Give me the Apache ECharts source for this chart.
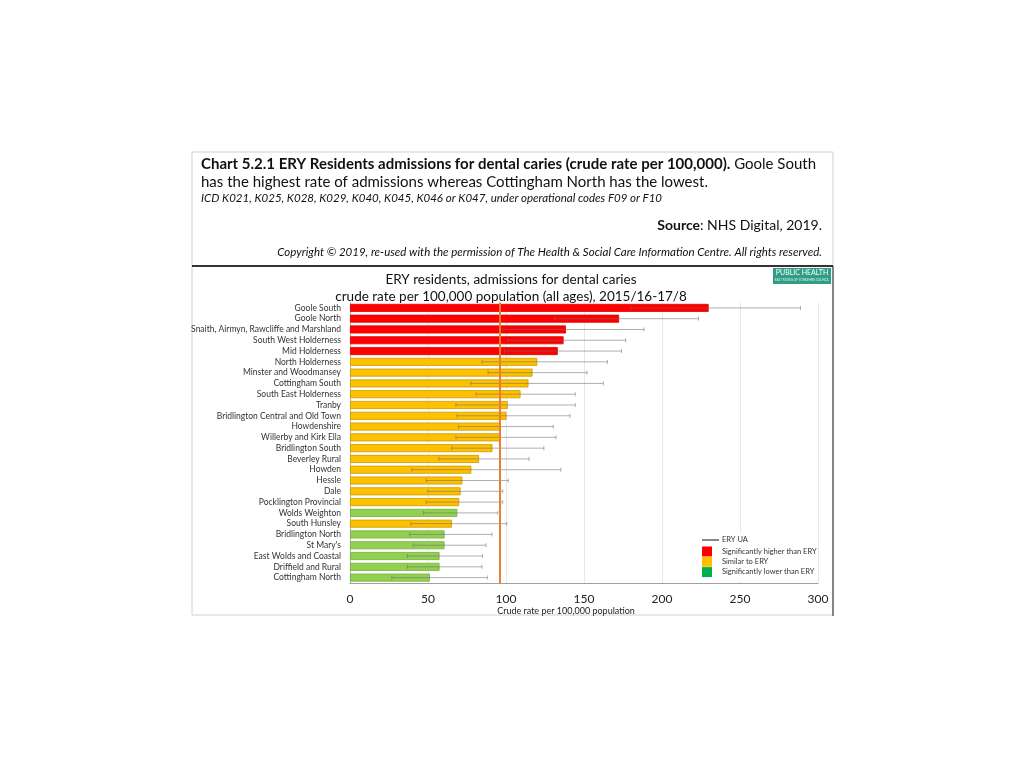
<!DOCTYPE html>
<html>
<head>
<meta charset="utf-8">
<script src="https://cdn.jsdelivr.net/npm/echarts@6/dist/echarts.min.js"></script>
<style>
html,body{margin:0;padding:0;background:#fff;}
#chart{width:1024px;height:768px;}
</style>
</head>
<body>
<div id="chart"></div>
<script>
// ---- data ----
const categories = [
  "Goole South","Goole North","Snaith, Airmyn, Rawcliffe and Marshland","South West Holderness",
  "Mid Holderness","North Holderness","Minster and Woodmansey","Cottingham South",
  "South East Holderness","Tranby","Bridlington Central and Old Town","Howdenshire",
  "Willerby and Kirk Ella","Bridlington South","Beverley Rural","Howden","Hessle","Dale",
  "Pocklington Provincial","Wolds Weighton","South Hunsley","Bridlington North","St Mary's",
  "East Wolds and Coastal","Driffield and Rural","Cottingham North"
];
const rates = [229.9,172.5,138.4,136.9,133.2,120.0,117.0,114.4,109.3,101.1,100.3,96.4,96.0,91.3,82.7,77.8,72.0,70.9,70.0,68.8,65.3,60.6,60.6,57.4,57.4,51.2];
const lowerCI = [180,131,97.5,101,99,84.6,88.5,77.5,80.8,67.9,68.6,69.6,67.9,65.1,57.0,39.6,48.8,49.9,48.8,47.1,39.0,38.3,40.5,36.8,36.8,26.8];
const upperCI = [288.8,223.4,188.5,176.7,174.0,165.0,151.9,162.4,144.4,144.4,141.0,130.3,132.0,124.3,114.8,135.2,101.5,97.9,97.9,94.7,100.5,91.0,87.2,85.0,84.6,88.0];
const significance = ["H","H","H","H","H","S","S","S","S","S","S","S","S","S","S","S","S","S","S","L","S","L","L","L","L","L"];
const eryUA = 95.7;
const xTicks = [0,50,100,150,200,250,300];

const barColors = {H:"#ff0000", S:"#ffc000", L:"#92d050"};
const barBorders = {H:"#e00000", S:"#c99a00", L:"#74b03a"};
const legendColors = ["#ff0000","#ffc000","#00b050"];
const legendLabels = ["Significantly higher than ERY","Similar to ERY","Significantly lower than ERY"];

const FONT = "Lato";
const chart = echarts.init(document.getElementById("chart"), null, {renderer:"canvas"});

const barData = rates.map((v,i)=>({value:v,itemStyle:{color:barColors[significance[i]],borderColor:barBorders[significance[i]],borderWidth:0.8}}));
const errData = rates.map((v,i)=>[i,lowerCI[i],upperCI[i]]);

const graphics = [
  // outer frame
  {type:"rect",shape:{x:192,y:152,width:641,height:463},style:{fill:"none",stroke:"#d0d0d0",lineWidth:1},z:0},
  {type:"line",shape:{x1:833,y1:266,x2:833,y2:616},style:{stroke:"#222",lineWidth:1}},
  {type:"line",shape:{x1:192,y1:266,x2:833,y2:266},style:{stroke:"#333",lineWidth:2}},
  // header text
  {type:"text",left:201,top:157,style:{rich:{b:{fontFamily:FONT,fontWeight:"bold",fontSize:15,fill:"#111"},r:{fontFamily:FONT,fontSize:15,fill:"#111"}},
    text:"{b|Chart 5.2.1 ERY Residents admissions for dental caries (crude rate per 100,000).}{r| Goole South}"}},
  {type:"text",left:201,top:175,style:{text:"has the highest rate of admissions whereas Cottingham North has the lowest.",fontFamily:FONT,fontSize:15,fill:"#111"}},
  {type:"text",left:201,top:192,style:{text:"ICD K021, K025, K028, K029, K040, K045, K046 or K047, under operational codes F09 or F10",fontFamily:FONT,fontStyle:"italic",fontSize:11.5,fill:"#111"}},
  {type:"text",right:1024-822,top:218,style:{rich:{b:{fontFamily:FONT,fontWeight:"bold",fontSize:14,fill:"#111"},r:{fontFamily:FONT,fontSize:14,fill:"#111"}},
    text:"{b|Source}{r|: NHS Digital, 2019.}"}},
  {type:"text",right:1024-822,top:246,style:{text:"Copyright \u00a9 2019, re-used with the permission of The Health & Social Care Information Centre. All rights reserved.",fontFamily:FONT,fontStyle:"italic",fontSize:11.5,fill:"#111"}},
  // public health logo
  {type:"rect",shape:{x:773,y:268,width:58,height:16},style:{fill:"#2f9e86"}},
  {type:"text",x:802,y:273,style:{text:"PUBLIC HEALTH",fontFamily:FONT,fontSize:7,fill:"#fff",textAlign:"center",textVerticalAlign:"middle"}},
  {type:"text",x:802,y:280,style:{text:"EAST RIDING OF YORKSHIRE COUNCIL",fontFamily:FONT,fontSize:3,fill:"#d8f0ea",textAlign:"center",textVerticalAlign:"middle"}},
  // x axis name
  {type:"text",x:566,y:611,style:{text:"Crude rate per 100,000 population",fontFamily:FONT,fontSize:9,fill:"#222",textAlign:"center",textVerticalAlign:"middle"}},
  // legend background + entries
  {type:"rect",z:50,shape:{x:698,y:533,width:118,height:48},style:{fill:"#fff"}},
  {type:"line",z:51,shape:{x1:702,y1:540,x2:719,y2:540},style:{stroke:"#111",lineWidth:1}},
  {type:"text",z:51,x:722,y:540,style:{text:"ERY UA",fontFamily:FONT,fontSize:7.5,fill:"#333",textVerticalAlign:"middle"}}
];
legendLabels.forEach((t,k)=>{
  graphics.push({type:"rect",z:51,shape:{x:702,y:546.5+k*10.3,width:10,height:10},style:{fill:legendColors[k]}});
  graphics.push({type:"text",z:51,x:722,y:551.5+k*10.1,style:{text:t,fontFamily:FONT,fontSize:7.5,fill:"#333",textVerticalAlign:"middle"}});
});

const option = {
  backgroundColor:"#fff",
  animation:false,
  title:{
    text:"ERY residents, admissions for dental caries\ncrude rate per 100,000 population (all ages), 2015/16-17/8",
    left:511, textAlign:"center", top:271, padding:0,
    textStyle:{fontFamily:FONT,fontSize:13.5,fontWeight:"normal",color:"#111",lineHeight:17}
  },
  grid:{left:350,right:206,top:302.5,bottom:185,containLabel:false},
  xAxis:{
    type:"value",min:0,max:300,interval:50,
    axisLine:{show:true,lineStyle:{color:"#a0a0a0"}},
    axisTick:{show:false},
    splitLine:{show:true,lineStyle:{color:"#e8e8e8"}},
    axisLabel:{fontFamily:FONT,fontSize:12,color:"#222",margin:10,
      formatter:(v)=>xTicks.indexOf(v)>=0?String(v):""}
  },
  yAxis:{
    type:"category",data:categories,inverse:true,
    axisLine:{show:true,lineStyle:{color:"#b0b0b0"}},
    axisTick:{show:false},
    axisLabel:{fontFamily:FONT,fontSize:8.5,color:"#333",margin:9,interval:0}
  },
  series:[
    {
      type:"bar",data:barData,barWidth:8,z:2,
      markLine:{
        symbol:"none",silent:true,label:{show:false},
        lineStyle:{color:"#ed7d31",width:2,type:"solid"},
        data:[{xAxis:eryUA}]
      }
    },
    {
      type:"custom",z:3,
      renderItem:function(params,api){
        const i=api.value(0);
        const p1=api.coord([api.value(1),i]);
        const p2=api.coord([api.value(2),i]);
        const h=2;
        const st={stroke:"rgba(110,110,110,0.55)",lineWidth:1};
        return {type:"group",children:[
          {type:"line",shape:{x1:p1[0],y1:p1[1],x2:p2[0],y2:p2[1]},style:st},
          {type:"line",shape:{x1:p1[0],y1:p1[1]-h,x2:p1[0],y2:p1[1]+h},style:st},
          {type:"line",shape:{x1:p2[0],y1:p2[1]-h,x2:p2[0],y2:p2[1]+h},style:st}
        ]};
      },
      encode:{x:[1,2],y:0},
      data:errData
    }
  ],
  graphic:graphics
};
chart.setOption(option);
</script>
</body>
</html>
